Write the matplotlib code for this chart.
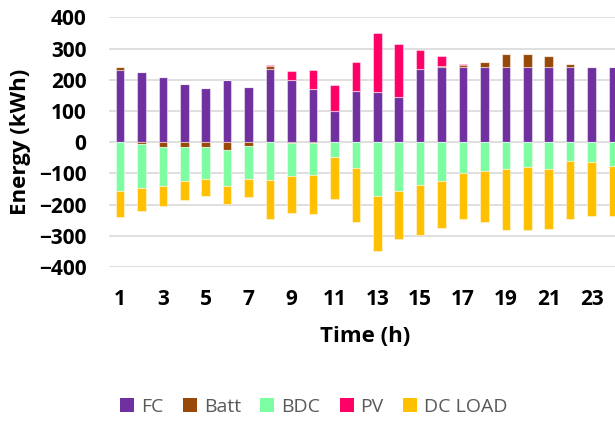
import matplotlib
matplotlib.use("Agg")
import matplotlib.pyplot as plt
import numpy as np
from matplotlib.patches import Patch

plt.rcParams["font.family"] = ["Open Sans", "DejaVu Sans"]

# Data (kWh per hour)
hours = np.arange(1, 25)
fc = [230, 225, 209, 186, 174, 199, 178, 235, 199, 171, 100, 163,
      160, 145, 234, 241, 240, 240, 240, 240, 240, 240, 240, 240]
batt = [10, -7, -17, -17, -14, -24, -11, 10, -3, -3, 0, 0,
        0, 0, 0, 3, 6, 18, 44, 43, 37, 9, 0, 0]
bdc = [-158, -141, -122, -109, -105, -117, -108, -120, -107, -103, -47, -82,
       -171, -158, -138, -124, -99, -91, -87, -79, -87, -60, -63, -78]
pv = [0, 0, 0, 0, 0, 0, 0, 2, 30, 61, 83, 95,
      191, 169, 62, 33, 3, 0, 0, 0, 0, 0, 0, 0]
dc_load = [-82, -74, -67, -59, -55, -57, -58, -125, -118, -125, -136, -173,
           -179, -153, -158, -152, -147, -165, -195, -201, -190, -186, -174, -159]

colors = {
    "FC": "#7030A0",
    "Batt": "#984807",
    "BDC": "#7DFDA1",
    "PV": "#FF0066",
    "DC LOAD": "#FFC000",
}

fig = plt.figure(figsize=(6.15, 4.21), dpi=100)
ax = fig.add_axes([109.3 / 615, (421 - 267) / 421, (615 - 109.3) / 615, 249.7 / 421])

width = 0.4
edge = dict(edgecolor=(1, 1, 1, 0.45), linewidth=0.8, zorder=3)

batt = np.array(batt, dtype=float)
batt_pos = np.clip(batt, 0, None)
batt_neg = np.clip(batt, None, 0)
fc = np.array(fc, dtype=float)
pv = np.array(pv, dtype=float)
bdc = np.array(bdc, dtype=float)
dc_load = np.array(dc_load, dtype=float)

# positive stack: FC, Batt, PV
ax.bar(hours, fc, width, color=colors["FC"], **edge)
ax.bar(hours, batt_pos, width, bottom=fc, color=colors["Batt"], **edge)
ax.bar(hours, pv, width, bottom=fc + batt_pos, color=colors["PV"], **edge)
# negative stack: Batt, BDC, DC LOAD
ax.bar(hours, batt_neg, width, color=colors["Batt"], **edge)
ax.bar(hours, bdc, width, bottom=batt_neg, color=colors["BDC"], **edge)
ax.bar(hours, dc_load, width, bottom=batt_neg + bdc, color=colors["DC LOAD"], **edge)

ax.set_xlim(0.5, 24.09)
ax.set_ylim(-400, 400)
ax.set_yticks(np.arange(-400, 401, 100))
ax.set_xticks(hours[::2])
ax.grid(axis="y", color="#D9D9D9", linewidth=1.2, zorder=0)
ax.set_axisbelow(True)
for s in ax.spines.values():
    s.set_visible(False)
ax.tick_params(axis="both", length=0, labelsize=15)
ax.tick_params(axis="y", pad=16.5)
ax.tick_params(axis="x", pad=16)
for lab in ax.get_xticklabels() + ax.get_yticklabels():
    lab.set_fontweight("bold")

fig.text(21 / 615, (421 - 142) / 421, "Energy (kWh)", rotation=90,
         ha="center", va="center", fontsize=16, fontweight="bold")
fig.text(365 / 615, (421 - 337) / 421, "Time (h)",
         ha="center", va="center", fontsize=16, fontweight="bold")

names = ["FC", "Batt", "BDC", "PV", "DC LOAD"]
handles = [Patch(facecolor=colors[n], edgecolor="none", label=n) for n in names]
leg = fig.legend(handles=handles, loc="center", ncol=5,
                 bbox_to_anchor=(314 / 615, (421 - 406.7) / 421),
                 frameon=False, fontsize=14, handlelength=0.72, handleheight=0.72,
                 handletextpad=0.35, columnspacing=1.0, borderaxespad=0)
for t in leg.get_texts():
    t.set_color("#595959")

fig.savefig("out.png", dpi=100)
